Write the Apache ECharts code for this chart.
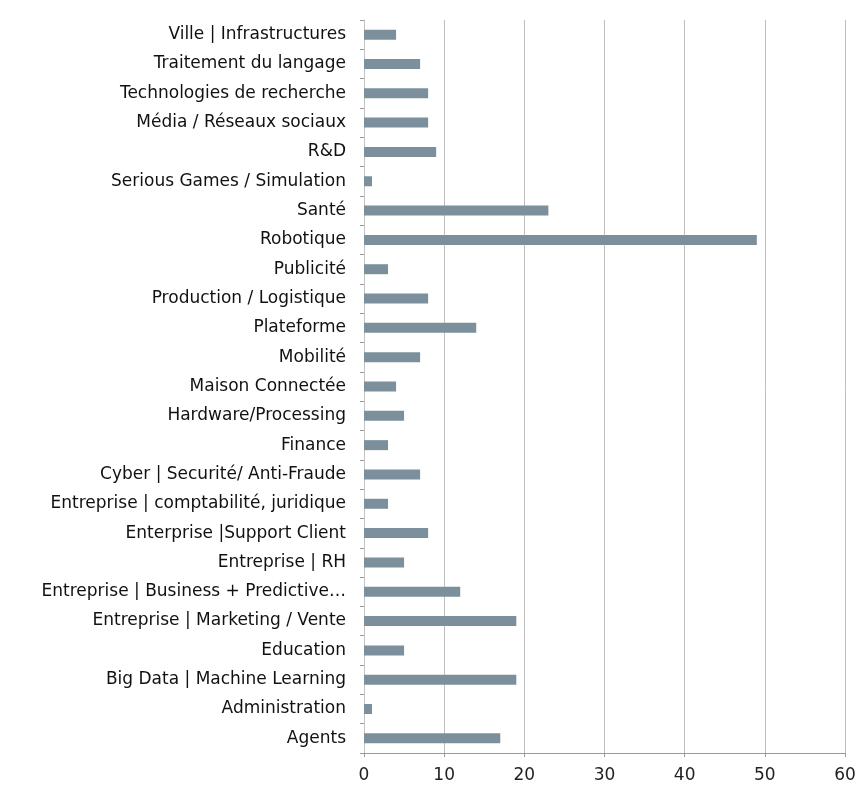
<!DOCTYPE html>
<html>
<head>
<meta charset="utf-8">
<script src="https://cdn.jsdelivr.net/npm/echarts@6/dist/echarts.min.js"></script>
<style>
  html, body { margin: 0; padding: 0; background: #fff; }
  #chart { width: 864px; height: 790px; }
</style>
</head>
<body>
<div id="chart"></div>
<script>
// categories listed bottom to top (category axis draws first item at the bottom)
const categories = [
  'Agents',
  'Administration',
  'Big Data | Machine Learning',
  'Education',
  'Entreprise | Marketing / Vente',
  'Entreprise | Business + Predictive…',
  'Entreprise | RH',
  'Enterprise |Support Client',
  'Entreprise | comptabilité, juridique',
  'Cyber | Securité/ Anti-Fraude',
  'Finance',
  'Hardware/Processing',
  'Maison Connectée',
  'Mobilité',
  'Plateforme',
  'Production / Logistique',
  'Publicité',
  'Robotique',
  'Santé',
  'Serious Games / Simulation',
  'R&D',
  'Média / Réseaux sociaux',
  'Technologies de recherche',
  'Traitement du langage',
  'Ville | Infrastructures'
]
const counts = [17, 1, 19, 5, 19, 12, 5, 8, 3, 7, 3, 5, 4, 7, 14, 8, 3, 49, 23, 1, 9, 8, 8, 7, 4]
const xTicks = { min: 0, max: 60, interval: 10 }

const chart = echarts.init(document.getElementById('chart'))

chart.setOption({
  animation: false,
  grid: {
    left: 364,
    right: 19,
    top: 20,
    bottom: 37,
    containLabel: false,
  },
  xAxis: {
    type: 'value',
    min: xTicks.min,
    max: xTicks.max,
    interval: xTicks.interval,
    axisLine: { show: true, lineStyle: { color: '#9a9a9a' } },
    axisTick: { show: true, length: 4, lineStyle: { color: '#9a9a9a' } },
    axisLabel: { color: '#222', fontSize: 17, fontFamily: 'DejaVu Sans', margin: 14 },
    splitLine: { show: true, lineStyle: { color: '#bdbdbd', width: 1 } },
  },
  yAxis: {
    type: 'category',
    data: categories,
    axisLine: { show: true, lineStyle: { color: '#c4c4c4' } },
    axisTick: { show: true, length: 4, lineStyle: { color: '#9a9a9a' } },
    axisLabel: { color: '#111', fontSize: 17, fontFamily: 'DejaVu Sans', margin: 18 },
  },
  series: [
    {
      type: 'bar',
      data: counts,
      barWidth: 10,
      itemStyle: { color: '#7b909c' },
    },
  ],
})
</script>
</body>
</html>
